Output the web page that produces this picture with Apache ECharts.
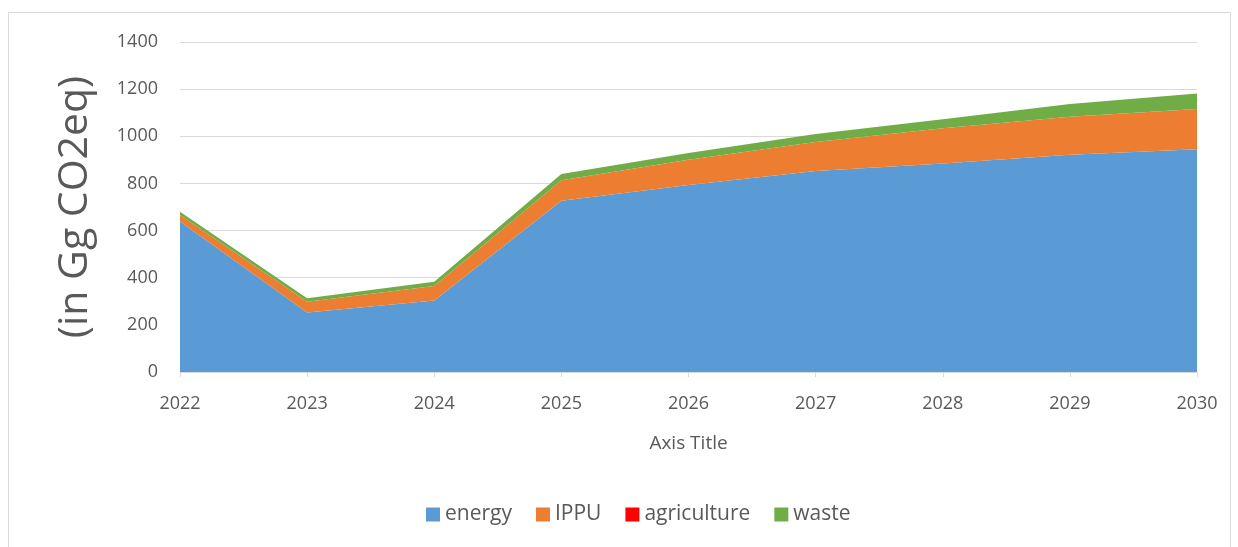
<!DOCTYPE html>
<html>
<head>
<meta charset="utf-8">
<script src="https://cdn.jsdelivr.net/npm/echarts@6/dist/echarts.min.js"></script>
<style>
  html, body { margin: 0; padding: 0; background: #fff; }
  #chart { width: 1238px; height: 547px; }
</style>
</head>
<body>
<div id="chart"></div>
<script>
const years = ['2022', '2023', '2024', '2025', '2026', '2027', '2028', '2029', '2030']
const energy = [638, 252, 303, 727, 793, 853, 885, 922, 945]
const ippu = [28, 46, 62, 87, 107, 123, 149, 161, 171]
const agriculture = [0, 0, 0, 0, 0, 0, 0, 0, 0]
const waste = [14, 15, 18, 26, 29, 34, 38, 54, 66]
const yTicks = [0, 200, 400, 600, 800, 1000, 1200, 1400]

const font = '"Open Sans", "Noto Sans", sans-serif'
const chart = echarts.init(document.getElementById('chart'))

function areaSeries(name, data, color) {
  return {
    name: name,
    type: 'line',
    stack: 'total',
    data: data,
    symbol: 'none',
    lineStyle: { width: 0 },
    areaStyle: { color: color, opacity: 1 },
    itemStyle: { color: color },
    emphasis: { disabled: true }
  }
}

chart.setOption({
  animation: false,
  textStyle: { fontFamily: font },
  graphic: [{
    type: 'rect',
    shape: { x: 8.5, y: 12.5, width: 1222, height: 540 },
    style: { fill: 'none', stroke: '#d9d9d9', lineWidth: 1 },
    silent: true
  }],
  grid: { left: 180, right: 41, top: 42, bottom: 175 },
  legend: {
    bottom: 17,
    left: 421,
    itemWidth: 14,
    itemHeight: 14,
    itemGap: 24,
    icon: 'rect',
    textStyle: { fontSize: 21, color: '#595959', fontFamily: font },
    data: ['energy', 'IPPU', 'agriculture', 'waste']
  },
  xAxis: {
    type: 'category',
    data: years,
    boundaryGap: false,
    name: 'Axis Title',
    nameLocation: 'middle',
    nameGap: 62,
    nameTextStyle: { fontSize: 19, color: '#595959' },
    axisLine: { lineStyle: { color: '#d9d9d9' } },
    axisTick: { show: true, length: 5, lineStyle: { color: '#d9d9d9' } },
    axisLabel: { fontSize: 18, color: '#595959', margin: 23 },
    splitLine: { show: false }
  },
  yAxis: {
    type: 'value',
    min: yTicks[0],
    max: yTicks[yTicks.length - 1],
    interval: 200,
    name: '(in Gg CO2eq)',
    nameLocation: 'middle',
    nameGap: 84,
    nameTextStyle: { fontSize: 41, color: '#595959' },
    axisLine: { show: false },
    axisTick: { show: false },
    axisLabel: { fontSize: 18, color: '#595959', margin: 22, formatter: v => String(v) },
    splitLine: { lineStyle: { color: '#d9d9d9', width: 1 } }
  },
  series: [
    areaSeries('energy', energy, '#5b9bd5'),
    areaSeries('IPPU', ippu, '#ed7d31'),
    areaSeries('agriculture', agriculture, '#ff0000'),
    areaSeries('waste', waste, '#70ad47')
  ]
})
</script>
</body>
</html>
